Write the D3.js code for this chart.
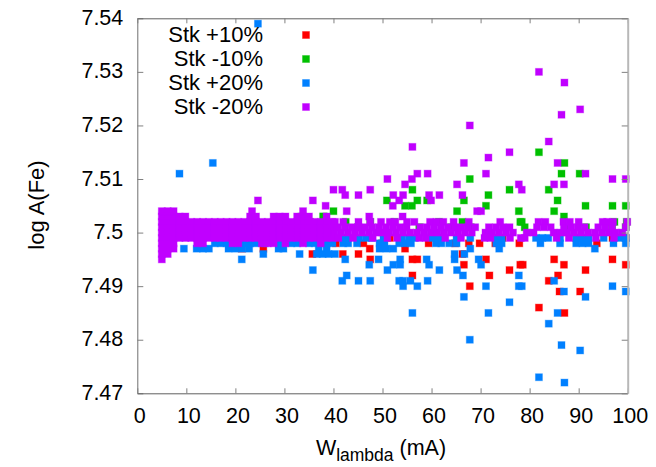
<!DOCTYPE html>
<html>
<head>
<meta charset="utf-8">
<script src="https://cdn.jsdelivr.net/npm/d3@7"></script>
<style>
  body { margin: 0; background: #fff; }
  text { font-family: "Liberation Sans", Arial, sans-serif; fill: #000; }
</style>
</head>
<body>
<svg id="chart" width="656" height="467"></svg>
<script>
// Axis ticks
const xTicks = [0, 10, 20, 30, 40, 50, 60, 70, 80, 90, 100];
const yTicks = [7.47, 7.48, 7.49, 7.50, 7.51, 7.52, 7.53, 7.54];
const yTickLabels = ["7.47", "7.48", "7.49", "7.5", "7.51", "7.52", "7.53", "7.54"];

// Series (legend order = drawing order)
const seriesNames = ["Stk +10%", "Stk -10%", "Stk +20%", "Stk -20%"];
const seriesColors = ["#ff0000", "#00c000", "#0080ff", "#c000ff"];

// [W_lambda (mA), log A(Fe)] for each perturbation
const stkPlus10 = [
  [21.3,7.497],[25.7,7.497],[35.7,7.496],[32.4,7.500],[34.5,7.500],[29.0,7.500],
  [40.5,7.498],[41.9,7.496],[45.1,7.496],[46.1,7.498],[47.4,7.497],[47.5,7.495],[49.9,7.498],
  [51.5,7.499],[54.6,7.497],[56.1,7.495],[56.1,7.492],[57.1,7.495],[59.4,7.498],[62.0,7.499],
  [64.8,7.498],[66.3,7.496],[66.6,7.494],[67.6,7.498],[67.8,7.490],[69.8,7.498],[71.1,7.495],
  [71.8,7.492],[73.0,7.498],[74.5,7.499],[75.9,7.493],[77.9,7.498],[78.1,7.494],[78.6,7.494],
  [81.9,7.486],[83.9,7.491],[85.0,7.495],[85.8,7.492],[86.1,7.489],[87.0,7.494],[87.1,7.485],
  [89.5,7.499],[90.3,7.489],[91.4,7.493],[93.7,7.498],[96.9,7.495],[96.9,7.499],[99.6,7.494],
  [99.6,7.499]
];

const stkMinus10 = [
  [81.9,7.515],[87.1,7.513],[86.5,7.511],[90.2,7.511],[67.8,7.510],[56.1,7.508],[75.9,7.508],
  [83.9,7.508],[71.6,7.507],[50.9,7.506],[57.1,7.506],[59.1,7.506],[66.6,7.506],[85.7,7.506],
  [54.6,7.505],[56.0,7.505],[71.1,7.505],[91.4,7.505],[96.9,7.505],[99.6,7.505],[40.0,7.504],
  [65.2,7.504],[77.8,7.504],[85.0,7.504],[87.0,7.503],[37.9,7.503],[33.5,7.503],[35.2,7.502],
  [38.0,7.503],[78.1,7.502],[42.5,7.502],[47.5,7.502],[52.4,7.502],[61.5,7.502],[66.3,7.502],
  [78.4,7.502],[97.3,7.502],[99.8,7.502],[45.0,7.501],[57.5,7.501],[64.0,7.501],[68.0,7.501],
  [79.0,7.501],[88.0,7.501],[91.5,7.501],[96.8,7.501],[99.6,7.501]
];

const stkPlus20 = [
  [24.6,7.539],[8.6,7.511],[15.4,7.513],[21.3,7.495],[25.7,7.496],[33.1,7.496],[35.8,7.493],
  [9.5,7.497],[12.1,7.497],[13.4,7.497],[14.6,7.497],[18.6,7.497],[20.0,7.497],[21.4,7.497],
  [22.8,7.497],[28.8,7.497],[29.8,7.497],[37.0,7.497],[38.6,7.497],
  [15.8,7.498],[17.0,7.498],[18.2,7.498],[21.8,7.498],[23.0,7.498],[24.2,7.498],[26.0,7.498],
  [29.0,7.498],[31.4,7.498],[32.6,7.498],[35.0,7.498],[36.2,7.498],[38.6,7.498],[39.8,7.498],
  [38.0,7.499],[42.0,7.499],[43.0,7.499],[45.2,7.499],[46.6,7.499],[47.8,7.499],[50.2,7.499],
  [54.0,7.499],[55.4,7.499],[56.6,7.499],[60.2,7.499],[61.4,7.499],[65.1,7.499],[67.9,7.499],
  [73.2,7.499],[74.3,7.499],[81.3,7.499],[82.6,7.499],[83.8,7.499],[86.2,7.499],[89.5,7.499],
  [90.8,7.499],[92.0,7.499],[95.1,7.499],[98.3,7.499],[99.6,7.499],
  [38.0,7.498],[42.0,7.498],[43.0,7.498],[44.8,7.498],[49.4,7.498],[50.4,7.498],[53.4,7.498],
  [54.6,7.498],[55.8,7.498],[60.9,7.498],[62.0,7.498],[63.6,7.498],[65.1,7.498],[73.2,7.498],
  [74.3,7.498],[82.2,7.498],[86.2,7.498],[89.5,7.498],[90.8,7.498],[92.0,7.498],[97.1,7.498],
  [99.6,7.498],
  [49.4,7.497],[50.8,7.497],[52.2,7.497],[67.9,7.497],[73.8,7.497],[93.3,7.497],
  [36.6,7.496],[37.8,7.496],[39.0,7.496],[40.3,7.496],[64.7,7.496],[66.7,7.496],
  [42.4,7.495],[49.2,7.495],[53.6,7.495],[59.0,7.495],[64.7,7.495],[69.6,7.495],
  [47.3,7.494],[52.2,7.494],[53.6,7.494],[59.5,7.494],[70.1,7.494],
  [51.0,7.493],[61.6,7.493],[65.2,7.493],
  [42.7,7.492],[66.4,7.492],[77.8,7.492],
  [41.8,7.491],[45.1,7.491],[47.5,7.491],[53.4,7.491],[54.2,7.491],[55.7,7.491],[59.2,7.491],
  [85.0,7.491],
  [54.2,7.490],[57.1,7.490],[71.1,7.490],[77.8,7.490],[78.4,7.490],[96.9,7.490],
  [87.0,7.489],[99.6,7.489],[66.6,7.488],[91.4,7.488],[75.9,7.487],
  [56.1,7.485],[71.6,7.485],[85.7,7.485],[83.9,7.483],[67.8,7.480],[86.5,7.479],[90.3,7.478],
  [81.9,7.473],[87.1,7.472]
];

const stkMinus20 = [
  // weak lines
  [5.0,7.495],[5.0,7.496],[5.0,7.497],[5.0,7.498],[5.0,7.499],[5.0,7.500],[5.0,7.501],[5.0,7.502],[5.0,7.503],[5.0,7.504],
  [6.2,7.496],[6.2,7.497],[6.2,7.498],[6.2,7.499],[6.2,7.500],[6.2,7.501],[6.2,7.502],[6.2,7.503],[6.2,7.504],
  [7.4,7.497],[7.4,7.498],[7.4,7.499],[7.4,7.500],[7.4,7.501],[7.4,7.502],[7.4,7.503],[7.4,7.504],
  [8.6,7.499],[8.6,7.500],[8.6,7.501],[8.6,7.502],[8.6,7.503],
  [9.8,7.499],[9.8,7.500],[9.8,7.501],[9.8,7.502],[9.8,7.503],
  [11.0,7.499],[11.0,7.500],[11.0,7.501],[11.0,7.502],
  [12.2,7.498],[12.2,7.499],[12.2,7.500],[12.2,7.501],[12.2,7.502],
  [13.4,7.498],[13.4,7.499],[13.4,7.500],[13.4,7.501],[13.4,7.502],
  [14.6,7.499],[14.6,7.500],[14.6,7.501],[14.6,7.502],
  [15.8,7.499],[15.8,7.500],[15.8,7.501],[15.8,7.502],
  [17.0,7.499],[17.0,7.500],[17.0,7.501],[17.0,7.502],
  [18.2,7.499],[18.2,7.500],[18.2,7.501],[18.2,7.502],
  [19.4,7.498],[19.4,7.499],[19.4,7.500],[19.4,7.501],[19.4,7.502],
  [20.6,7.498],[20.6,7.499],[20.6,7.500],[20.6,7.501],[20.6,7.502],
  [21.8,7.499],[21.8,7.500],[21.8,7.501],[21.8,7.502],
  [23.0,7.499],[23.0,7.500],[23.0,7.501],[23.0,7.502],[23.0,7.503],[23.4,7.504],
  [24.2,7.499],[24.2,7.500],[24.2,7.501],[24.2,7.502],[24.2,7.503],
  [25.4,7.498],[25.4,7.499],[25.4,7.500],[25.4,7.501],[25.4,7.502],
  [26.6,7.498],[26.6,7.499],[26.6,7.500],[26.6,7.501],[26.6,7.502],
  [27.8,7.498],[27.8,7.499],[27.8,7.500],[27.8,7.501],[27.8,7.502],[27.8,7.503],
  [29.0,7.499],[29.0,7.500],[29.0,7.501],[29.0,7.502],[29.0,7.503],
  [30.2,7.498],[30.2,7.499],[30.2,7.500],[30.2,7.501],[30.2,7.502],[30.2,7.503],
  [31.4,7.499],[31.4,7.500],[31.4,7.501],[31.4,7.502],
  [32.6,7.499],[32.6,7.500],[32.6,7.501],[32.6,7.502],[32.6,7.503],
  [33.8,7.498],[33.8,7.499],[33.8,7.500],[33.8,7.501],[33.8,7.502],[33.8,7.503],[33.8,7.504],
  [35.0,7.499],[35.0,7.500],[35.0,7.501],[35.0,7.502],[35.0,7.503],
  [36.2,7.499],[36.2,7.500],[36.2,7.501],[36.2,7.502],
  [37.4,7.498],[37.4,7.499],[37.4,7.500],[37.4,7.501],[37.4,7.502],
  [38.6,7.499],[38.6,7.500],[38.6,7.501],[38.6,7.502],[38.6,7.503],
  [39.8,7.499],[39.8,7.500],[39.8,7.501],[39.8,7.502],
  // stronger lines
  [40.2,7.500],[41.6,7.500],[43.0,7.500],[44.4,7.500],[45.8,7.500],[47.2,7.500],[48.6,7.500],
  [50.0,7.500],[51.4,7.500],[52.8,7.500],[54.2,7.500],[55.6,7.500],[57.0,7.500],[58.4,7.500],
  [59.8,7.500],[61.2,7.500],[62.6,7.500],[64.0,7.500],[65.4,7.500],[66.8,7.500],[68.2,7.500],
  [71.0,7.500],[72.4,7.500],[73.8,7.500],[75.2,7.500],[76.6,7.500],[79.4,7.500],[80.8,7.500],
  [84.9,7.500],[86.3,7.500],[87.7,7.500],[89.1,7.500],[90.5,7.500],[91.9,7.500],[93.3,7.500],
  [94.7,7.500],[96.1,7.500],[97.5,7.500],[98.9,7.500],
  [40.9,7.501],[42.3,7.501],[43.7,7.501],[45.1,7.501],[46.5,7.501],[47.9,7.501],[49.3,7.501],
  [50.7,7.501],[52.1,7.501],[53.5,7.501],[54.9,7.501],[57.7,7.501],[59.1,7.501],[60.5,7.501],
  [61.9,7.501],[63.3,7.501],[64.7,7.501],[66.1,7.501],[67.5,7.501],[68.9,7.501],[71.7,7.501],
  [73.1,7.501],[74.5,7.501],[75.9,7.501],[81.5,7.501],[82.9,7.501],[84.3,7.501],[87.0,7.501],
  [88.4,7.501],[89.8,7.501],[91.2,7.501],[94.0,7.501],[95.4,7.501],[96.8,7.501],[99.6,7.501],
  [40.3,7.502],[42.0,7.502],[45.1,7.502],[47.5,7.502],[49.7,7.502],[51.5,7.502],[52.6,7.502],
  [55.0,7.502],[56.5,7.502],[59.7,7.502],[61.0,7.502],[62.4,7.502],[64.5,7.502],[67.6,7.502],
  [74.0,7.502],[81.8,7.502],[83.2,7.502],[86.9,7.502],[88.2,7.502],[90.0,7.502],[94.9,7.502],
  [95.8,7.502],[97.0,7.502],[99.9,7.502],
  [41.0,7.499],[44.0,7.499],[48.0,7.499],[51.0,7.499],[53.0,7.499],[57.5,7.499],[58.8,7.499],
  [62.8,7.499],[66.0,7.499],[70.8,7.499],[72.0,7.499],[76.0,7.499],[78.2,7.499],[79.0,7.499],
  [85.5,7.499],[88.0,7.499],[93.5,7.499],[97.2,7.499],
  // outliers
  [81.9,7.530],[87.1,7.528],[90.3,7.523],[86.5,7.522],[67.8,7.520],[83.9,7.517],[56.1,7.516],
  [75.9,7.515],[71.6,7.514],[66.6,7.513],[85.7,7.513],[57.1,7.511],[59.2,7.511],[71.1,7.511],
  [91.4,7.511],[51.0,7.510],[56.0,7.510],[96.9,7.510],[99.6,7.510],[54.6,7.509],[65.2,7.509],
  [77.8,7.509],[85.0,7.509],[87.0,7.509],[40.0,7.508],[41.8,7.508],[47.5,7.508],[78.4,7.508],
  [42.4,7.507],[45.1,7.507],[52.2,7.507],[54.2,7.507],[59.5,7.507],[61.6,7.507],[66.3,7.507],
  [53.4,7.506],[59.9,7.506],[24.6,7.506],[35.8,7.506],[38.4,7.505],[52.1,7.505],[42.7,7.504],
  [69.3,7.504],[70.1,7.504],[47.3,7.503],[54.1,7.503]
];

const series = [stkPlus10, stkMinus10, stkPlus20, stkMinus20];

const svg = d3.select("#chart");
const plotLeft = 137.3, plotRight = 627.7, plotTop = 18.3, plotBottom = 393.3;
const x = d3.scaleLinear().domain([0, 100]).range([plotLeft, plotRight]);
const y = d3.scaleLinear().domain([7.47, 7.54]).range([plotBottom, plotTop]);
const markSize = 7;

// points
series.forEach((pts, i) => {
  svg.append("g")
    .selectAll("rect")
    .data(pts)
    .join("rect")
    .attr("x", d => x(d[0]) - markSize / 2)
    .attr("y", d => y(d[1]) - markSize / 2)
    .attr("width", markSize)
    .attr("height", markSize)
    .attr("fill", seriesColors[i])
    .attr("stroke", seriesColors[i])
    .attr("stroke-opacity", 0.35)
    .attr("stroke-width", 1);
});

// axes
const fmtY = d => yTickLabels[yTicks.findIndex(t => Math.abs(t - d) < 1e-9)];

const gLeft = svg.append("g").attr("transform", `translate(${plotLeft},0)`)
  .call(d3.axisLeft(y).tickValues(yTicks).tickFormat(fmtY)
    .tickSizeInner(-6).tickSizeOuter(0).tickPadding(14));
const gBottom = svg.append("g").attr("transform", `translate(0,${plotBottom})`)
  .call(d3.axisBottom(x).tickValues(xTicks).tickFormat(d3.format("d"))
    .tickSizeInner(-5).tickSizeOuter(0).tickPadding(14));
const gTop = svg.append("g").attr("transform", `translate(0,${plotTop})`)
  .call(d3.axisTop(x).tickValues(xTicks).tickFormat("")
    .tickSizeInner(-5).tickSizeOuter(0));
const gRight = svg.append("g").attr("transform", `translate(${plotRight},0)`)
  .call(d3.axisRight(y).tickValues(yTicks).tickFormat("")
    .tickSizeInner(-6).tickSizeOuter(0));

[gLeft, gBottom, gTop, gRight].forEach(g => {
  g.selectAll("text").attr("font-size", 21.5)
    .attr("font-family", "'Liberation Sans', Arial, sans-serif").attr("fill", "#000");
  g.selectAll(".tick line").attr("stroke", "#808080");
});
gLeft.select(".domain").attr("stroke", "#707070");
gBottom.select(".domain").attr("stroke", "#606060");
gTop.select(".domain").attr("stroke", "#606060");
gRight.select(".domain").attr("stroke", "#b8b8b8").attr("stroke-width", 2);
gLeft.selectAll("text").attr("dy", "0.28em");
gBottom.selectAll("text").attr("dx", 2);

// axis titles
const xt = svg.append("text")
  .attr("x", 381).attr("y", 455)
  .attr("text-anchor", "middle")
  .attr("font-size", 21.5);
xt.append("tspan").text("W");
xt.append("tspan").attr("font-size", 17.5).attr("dy", 6).text("lambda");
xt.append("tspan").attr("dy", -6).text(" (mA)");

svg.append("text")
  .attr("transform", "translate(44,205) rotate(-90)")
  .attr("text-anchor", "middle")
  .attr("font-size", 22)
  .text("log A(Fe)");

// legend
const legend = svg.append("g");
seriesNames.forEach((name, i) => {
  const cy = 35 + i * 24;
  legend.append("text")
    .attr("x", 263).attr("y", cy + 6.5)
    .attr("text-anchor", "end")
    .attr("font-size", 22)
    .text(name);
  legend.append("rect")
    .attr("x", 306 - markSize / 2).attr("y", cy - markSize / 2)
    .attr("width", markSize).attr("height", markSize)
    .attr("fill", seriesColors[i])
    .attr("stroke", seriesColors[i]).attr("stroke-opacity", 0.35);
});
</script>
</body>
</html>
